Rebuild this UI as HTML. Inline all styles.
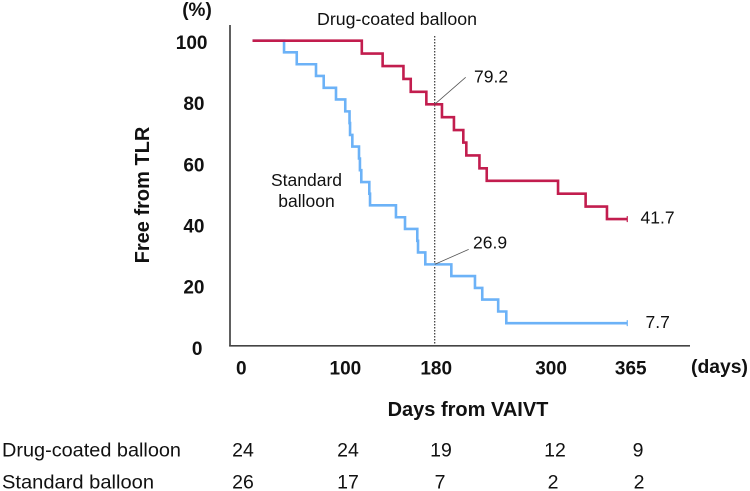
<!DOCTYPE html>
<html>
<head>
<meta charset="utf-8">
<style>
html,body{margin:0;padding:0;background:#fff;width:750px;height:491px;overflow:hidden}
svg{display:block}
text{font-family:"Liberation Sans",sans-serif;fill:#111}
.b{font-weight:bold;font-size:19px;text-anchor:middle}
.h{font-weight:bold;font-size:20px;text-anchor:middle}
.r{font-size:17.5px}
.t{font-size:19.5px}
</style>
</head>
<body>
<svg id="chart" width="750" height="491" viewBox="0 0 750 491" xmlns="http://www.w3.org/2000/svg">
<text class="b" x="197" y="16">(%)</text>
<text class="b" x="719.5" y="373" textLength="57" lengthAdjust="spacingAndGlyphs">(days)</text>
<text class="h" x="0" y="0" transform="translate(149,195) rotate(-90)">Free from TLR</text>
<text class="h" x="468" y="416">Days from VAIVT</text>
<text class="r" x="317" y="25" textLength="160" lengthAdjust="spacingAndGlyphs">Drug-coated balloon</text>
<text class="r" x="306.5" y="186" text-anchor="middle">Standard</text>
<text class="r" x="306.5" y="207" text-anchor="middle">balloon</text>
<text class="r" x="474" y="82.500">79.2</text>
<text class="r" x="640.500" y="223.500">41.7</text>
<text class="r" x="473" y="248.500">26.9</text>
<text class="r" x="645.500" y="328">7.7</text>
<text class="t" x="2" y="456.500" textLength="179" lengthAdjust="spacingAndGlyphs">Drug-coated balloon</text>
<text class="t" x="2" y="488.500" textLength="152" lengthAdjust="spacingAndGlyphs">Standard balloon</text>
<g class="t" text-anchor="middle">
<text x="243" y="456.500">24</text><text x="348" y="456.500">24</text><text x="441" y="456.500">19</text><text x="555" y="456.500">12</text><text x="638" y="456.500">9</text>
</g>
<g class="t" text-anchor="middle">
<text x="243" y="488.500">26</text><text x="348" y="488.500">17</text><text x="440" y="488.500">7</text><text x="553" y="488.500">2</text><text x="639" y="488.500">2</text>
</g>
</svg>
<script>
const xTicks = [0, 100, 180, 300, 365];
const yTicks = [0, 20, 40, 60, 80, 100];
const drugDays = [5, 110, 130, 150, 157, 172, 187, 198.5, 207.5, 210.4, 223, 230, 298.5, 325, 345.5, 365];
const drugValues = [100, 95.8, 91.7, 87.5, 83.3, 79.2, 75, 70.8, 66.7, 62.5, 58.3, 54.2, 50, 45.8, 41.7, 41.7];
const standardDays = [5, 35.3, 47.5, 66, 73.4, 85.2, 94.1, 98.2, 98.7, 100.9, 107.3, 108.2, 109.5, 117.2, 117.9, 142.8, 151.5, 163.3, 164, 171, 196, 218.7, 225.7, 241, 248.8, 365];
const standardValues = [100, 96.2, 92.3, 88.5, 84.6, 80.8, 76.9, 73.1, 69.2, 65.4, 61.5, 57.7, 53.8, 50, 46.2, 42.3, 38.5, 34.6, 30.8, 26.9, 23.1, 19.2, 15.4, 11.5, 7.7, 7.7];
const landmarkDay = 180;
const landmarkDrug = 79.2;
const landmarkStandard = 26.9;

const NS = 'http://www.w3.org/2000/svg';
const svg = document.getElementById('chart');
function xScale(d) { return 247.3 + 1.041 * d; }
function yScale(v) { return 346.7 - 3.06 * v; }

function make(tag, attrs) {
  const el = document.createElementNS(NS, tag);
  for (const k in attrs) el.setAttribute(k, attrs[k]);
  svg.appendChild(el);
  return el;
}

function stepPath(days, values) {
  let d = 'M' + xScale(days[0]) + ' ' + yScale(values[0]);
  for (let i = 1; i < days.length; i++) {
    d += 'H' + xScale(days[i]) + 'V' + yScale(values[i]);
  }
  return d;
}

function drawSeries(days, values, color, lineName, censorName) {
  const line = make('path', { d: stepPath(days, values), fill: 'none', stroke: color, 'stroke-width': 2.6, 'stroke-linejoin': 'miter' });
  
  
  const last = days.length - 1;
  const cx = xScale(days[last]);
  const cy = yScale(values[last]);
  const censor = make('line', { x1: cx, x2: cx, y1: cy - 3, y2: cy + 3, stroke: color, 'stroke-width': 1.2 });
  
  
}

const yAxis = make('line', { x1: 230, x2: 230, y1: 25, y2: 346.5, stroke: '#444', 'stroke-width': 1.7 });



const xAxis = make('line', { x1: 229.2, x2: 690, y1: 345.8, y2: 345.8, stroke: '#444', 'stroke-width': 1.6 });



const refLine = make('line', { x1: xScale(landmarkDay), x2: xScale(landmarkDay), y1: 36, y2: 345, stroke: '#444', 'stroke-width': 1.3, 'stroke-dasharray': '1.5 1.5' });



drawSeries(standardDays, standardValues, '#6cb2f7', 'standard-balloon-line', 'standard-balloon-censor');
drawSeries(drugDays, drugValues, '#c21d4e', 'drug-coated-balloon-line', 'drug-coated-balloon-censor');

const drugLeader = make('line', { x1: xScale(landmarkDay), y1: yScale(landmarkDrug), x2: xScale(landmarkDay) + 31, y2: yScale(landmarkDrug) - 27, stroke: '#555', 'stroke-width': 0.8 });



const standardLeader = make('line', { x1: xScale(landmarkDay), y1: yScale(landmarkStandard), x2: xScale(landmarkDay) + 34, y2: yScale(landmarkStandard) - 15, stroke: '#555', 'stroke-width': 0.8 });



xTicks.forEach(function (t) {
  const nudge = { 0: -6, 100: -6, 180: 1.5, 300: -8.5, 365: 3.5 }[t] || 0;
  const label = make('text', { x: xScale(t) + nudge, y: 374.5, class: 'b' });
  label.textContent = String(t);
  
  
});

yTicks.forEach(function (t) {
  const nudge = t === 100 ? 3 : (t === 0 ? -2 : 0);
  const label = make('text', { x: 204.5 + nudge, y: yScale(t) + 8.2, class: 'b', style: 'text-anchor:end' });
  label.textContent = String(t);
  
  
});
</script>
</body>
</html>
